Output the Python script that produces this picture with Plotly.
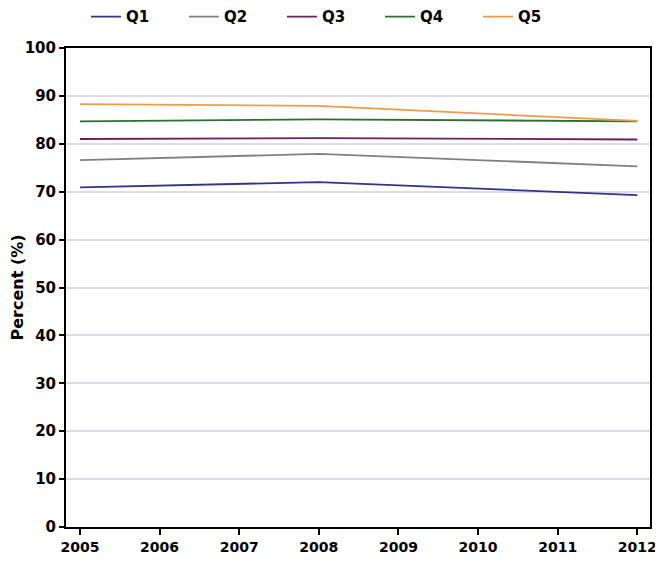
import plotly.graph_objects as go

years = [2005, 2008, 2012]
q1 = [70.9, 72.0, 69.3]
q2 = [76.6, 77.9, 75.3]
q3 = [81.0, 81.2, 80.9]
q4 = [84.7, 85.1, 84.7]
q5 = [88.3, 87.9, 84.8]
names = ["Q1", "Q2", "Q3", "Q4", "Q5"]
colors = ["#2f3587", "#808080", "#6b1f63", "#2f6e30", "#f29a4a"]
series = [q1, q2, q3, q4, q5]
year_ticks = list(range(2005, 2013))
y_ticks = list(range(0, 101, 10))

fnt = dict(family="DejaVu Sans", size=15, color="black", weight="bold")
xfnt = dict(family="DejaVu Sans", size=14, color="black", weight="bold")
title_fnt = dict(family="DejaVu Sans", size=16, color="black", weight="bold")

fig = go.Figure()
for n, c, s in zip(names, colors, series):
    fig.add_trace(go.Scatter(x=years, y=s, name=n, mode="lines",
                             line=dict(color=c, width=1.8)))

fig.update_layout(
    width=655, height=549,
    margin=dict(l=58, r=13, t=40, b=30, autoexpand=False),
    paper_bgcolor="white", plot_bgcolor="white",
    font=fnt,
    showlegend=True,
    legend=dict(orientation="h", xref="container", yref="container",
                x=0.119, xanchor="left", y=0.984, yanchor="middle",
                entrywidth=53, entrywidthmode="pixels",
                font=fnt),
    xaxis=dict(range=[2004.825, 2012.16], tickvals=year_ticks,
               ticktext=[str(y) for y in year_ticks], tickfont=xfnt,
               showgrid=False, zeroline=False, automargin=False,
               showline=True, linecolor="black", linewidth=2, mirror=True,
               ticks="outside", ticklen=6, tickwidth=2, tickcolor="black"),
    yaxis=dict(range=[0, 100], tickvals=y_ticks,
               showgrid=True, gridcolor="#dedbea", gridwidth=2, zeroline=False,
               automargin=False,
               showline=True, linecolor="black", linewidth=2, mirror=True,
               ticks="outside", ticklen=5, tickwidth=2, tickcolor="black",
               title=dict(text="Percent (%)", standoff=7, font=title_fnt)),
)

fig.write_html("out.html")
